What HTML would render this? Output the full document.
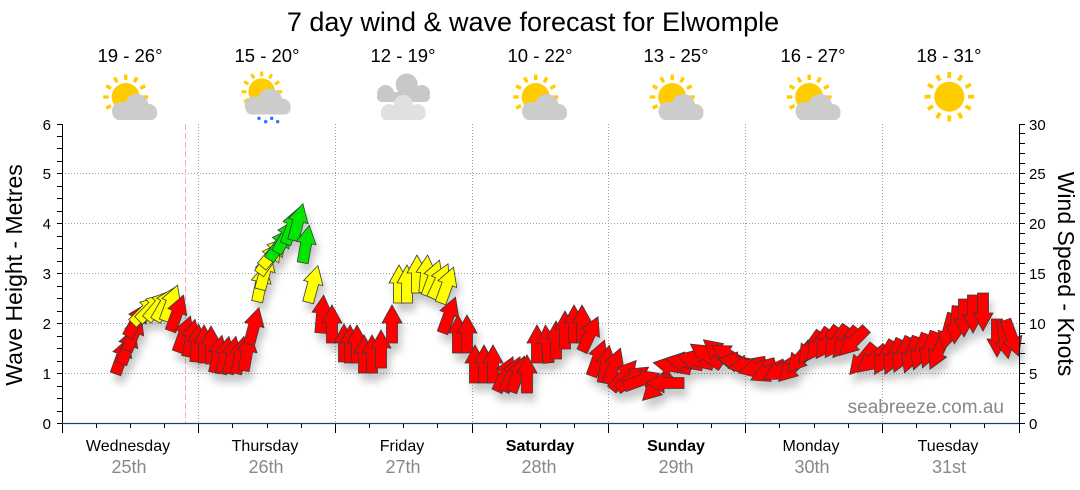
<!DOCTYPE html>
<html><head><meta charset="utf-8">
<style>
html,body{margin:0;padding:0;background:#fff;}
svg{display:block;font-family:"Liberation Sans",Arial,sans-serif;}
.r{fill:#ff0000}.y{fill:#ffff00}.g{fill:#00e600}
</style></head>
<body>
<svg width="1080" height="490" viewBox="0 0 1080 490" xmlns="http://www.w3.org/2000/svg">
<defs>
<path id="a" d="M-5.5,19 L-5.5,-1 L-10,-1 L0,-19 L10,-1 L5.5,-1 L5.5,19 Z"/>
<filter id="sh" x="-10%" y="-20%" width="120%" height="150%">
<feDropShadow dx="3" dy="8" stdDeviation="4" flood-color="#000" flood-opacity="0.22"/>
</filter>
<g id="rays">
<g stroke="#ffcc00" stroke-width="3.4">
<line x1="0" y1="-17" x2="0" y2="-22.5"/>
<line x1="0" y1="-17" x2="0" y2="-22.5" transform="rotate(30)"/>
<line x1="0" y1="-17" x2="0" y2="-22.5" transform="rotate(60)"/>
<line x1="0" y1="-17" x2="0" y2="-22.5" transform="rotate(90)"/>
<line x1="0" y1="-17" x2="0" y2="-22.5" transform="rotate(120)"/>
<line x1="0" y1="-17" x2="0" y2="-22.5" transform="rotate(150)"/>
<line x1="0" y1="-17" x2="0" y2="-22.5" transform="rotate(180)"/>
<line x1="0" y1="-17" x2="0" y2="-22.5" transform="rotate(210)"/>
<line x1="0" y1="-17" x2="0" y2="-22.5" transform="rotate(240)"/>
<line x1="0" y1="-17" x2="0" y2="-22.5" transform="rotate(270)"/>
<line x1="0" y1="-17" x2="0" y2="-22.5" transform="rotate(300)"/>
<line x1="0" y1="-17" x2="0" y2="-22.5" transform="rotate(330)"/>
</g>
</g>
<g id="cloud" fill="#cccccc">
<circle cx="6.2" cy="106" r="12"/>
<circle cx="18.5" cy="112" r="8"/>
<circle cx="-9.5" cy="111" r="9"/>
<rect x="-17.5" y="108" width="44" height="12" rx="6"/>
</g>
<g id="suncloud">
<g transform="translate(-4.8 97)"><use href="#rays"/><circle r="14" fill="#ffcc00"/></g>
<use href="#cloud"/>
</g>
</defs>

<!-- title -->
<text x="533" y="31" font-size="27" text-anchor="middle" fill="#000">7 day wind &amp; wave forecast for Elwomple</text>

<!-- temps -->
<g font-size="18.5" text-anchor="middle" fill="#000">
<text x="130" y="62">19 - 26°</text>
<text x="267" y="62">15 - 20°</text>
<text x="403" y="62">12 - 19°</text>
<text x="540" y="62">10 - 22°</text>
<text x="676" y="62">13 - 25°</text>
<text x="813" y="62">16 - 27°</text>
<text x="949" y="62">18 - 31°</text>
</g>

<!-- icons -->
<use href="#suncloud" transform="translate(130.5 0)"/>
<g transform="translate(267.5 0)">
<g transform="translate(-5.8 91.7)"><use href="#rays" transform="scale(0.9)"/><circle r="13.3" fill="#ffcc00"/></g>
<use href="#cloud" transform="translate(-4 -5.5) scale(1.02 1)"/>
<g fill="#1a6cff">
<rect x="-10" y="116.8" width="3" height="3"/>
<rect x="-3.3" y="120.2" width="3" height="3"/>
<rect x="2.7" y="116.8" width="3" height="3"/>
<rect x="8.7" y="120.2" width="3" height="3"/>
</g>
</g>
<g>
<g fill="#c8c8c8">
<circle cx="406.7" cy="84.5" r="11"/>
<circle cx="385.5" cy="93.5" r="8.5"/>
<circle cx="422" cy="93" r="8"/>
<rect x="377" y="92" width="53" height="10" rx="5"/>
</g>
<g fill="#e0e0e0">
<circle cx="403.3" cy="104.5" r="9.5"/>
<circle cx="389" cy="112" r="8"/>
<circle cx="417.5" cy="112" r="8"/>
<rect x="380.7" y="108" width="45" height="12" rx="6"/>
</g>
</g>
<use href="#suncloud" transform="translate(540.5 0)"/>
<use href="#suncloud" transform="translate(677 0)"/>
<use href="#suncloud" transform="translate(814 0)"/>
<g transform="translate(949.3 96.7)">
<use href="#rays" transform="scale(1.1)"/>
<circle r="15" fill="#ffcc00"/>
</g>

<!-- grid -->
<g stroke="#a0a0a0" stroke-width="1" stroke-dasharray="1 2" fill="none">
<path d="M62 373.5H1019M62 323.5H1019M62 273.5H1019M62 223.5H1019M62 173.5H1019"/>
<path d="M198.5 124V423M335.5 124V423M472.5 124V423M608.5 124V423M745.5 124V423M882.5 124V423"/>
</g>
<line x1="185.5" y1="124" x2="185.5" y2="423" stroke="#f4a8b0" stroke-width="1" stroke-dasharray="6 3"/>

<!-- watermark -->
<text x="1004" y="413" font-size="19" text-anchor="end" fill="#888">seabreeze.com.au</text>

<!-- arrows -->
<g filter="url(#sh)" stroke="#3a3a3a" stroke-width="0.8" stroke-linejoin="miter">
<use href="#a" class="r" transform="translate(122 356) rotate(20)"/>
<use href="#a" class="r" transform="translate(128 346) rotate(20)"/>
<use href="#a" class="r" transform="translate(134 333) rotate(22)"/>
<use href="#a" class="r" transform="translate(137 320) rotate(30)"/>
<use href="#a" class="y" transform="translate(146 310) rotate(45)"/>
<use href="#a" class="y" transform="translate(152 307) rotate(45)"/>
<use href="#a" class="y" transform="translate(159 305) rotate(40)"/>
<use href="#a" class="y" transform="translate(165 304) rotate(30)"/>
<use href="#a" class="y" transform="translate(171 303) rotate(20)"/>
<use href="#a" class="r" transform="translate(177 313) rotate(20)"/>
<use href="#a" class="r" transform="translate(184 334) rotate(20)"/>
<use href="#a" class="r" transform="translate(191 338) rotate(12)"/>
<use href="#a" class="r" transform="translate(197 343) rotate(5)"/>
<use href="#a" class="r" transform="translate(204 344) rotate(0)"/>
<use href="#a" class="r" transform="translate(211 345) rotate(0)"/>
<use href="#a" class="r" transform="translate(218 354) rotate(12)"/>
<use href="#a" class="r" transform="translate(225 355) rotate(12)"/>
<use href="#a" class="r" transform="translate(232 355) rotate(12)"/>
<use href="#a" class="r" transform="translate(240 355) rotate(12)"/>
<use href="#a" class="r" transform="translate(247 352) rotate(10)"/>
<use href="#a" class="r" transform="translate(254 326) rotate(15)"/>
<use href="#a" class="y" transform="translate(261 283) rotate(12)"/>
<use href="#a" class="y" transform="translate(265 271) rotate(15)"/>
<use href="#a" class="y" transform="translate(270 258) rotate(35)"/>
<use href="#a" class="y" transform="translate(274 252) rotate(40)"/>
<use href="#a" class="g" transform="translate(280 244) rotate(35)"/>
<use href="#a" class="g" transform="translate(286 236) rotate(30)"/>
<use href="#a" class="g" transform="translate(292 226) rotate(20)"/>
<use href="#a" class="g" transform="translate(298 222) rotate(15)"/>
<use href="#a" class="g" transform="translate(306 244) rotate(10)"/>
<use href="#a" class="y" transform="translate(313 284) rotate(15)"/>
<use href="#a" class="r" transform="translate(322 314) rotate(5)"/>
<use href="#a" class="r" transform="translate(332 324) rotate(0)"/>
<use href="#a" class="r" transform="translate(344 343) rotate(0)"/>
<use href="#a" class="r" transform="translate(350 344) rotate(0)"/>
<use href="#a" class="r" transform="translate(357 344) rotate(0)"/>
<use href="#a" class="r" transform="translate(364 354) rotate(0)"/>
<use href="#a" class="r" transform="translate(372 354) rotate(0)"/>
<use href="#a" class="r" transform="translate(381 349) rotate(0)"/>
<use href="#a" class="r" transform="translate(392 324) rotate(0)"/>
<use href="#a" class="y" transform="translate(399 284) rotate(0)"/>
<use href="#a" class="y" transform="translate(407 284) rotate(0)"/>
<use href="#a" class="y" transform="translate(417 274) rotate(0)"/>
<use href="#a" class="y" transform="translate(426 274) rotate(5)"/>
<use href="#a" class="y" transform="translate(433 278) rotate(20)"/>
<use href="#a" class="y" transform="translate(440 281) rotate(25)"/>
<use href="#a" class="y" transform="translate(447 285) rotate(20)"/>
<use href="#a" class="r" transform="translate(449 315) rotate(20)"/>
<use href="#a" class="r" transform="translate(458 334) rotate(0)"/>
<use href="#a" class="r" transform="translate(467 334) rotate(0)"/>
<use href="#a" class="r" transform="translate(475 364) rotate(0)"/>
<use href="#a" class="r" transform="translate(484 364) rotate(0)"/>
<use href="#a" class="r" transform="translate(493 364) rotate(0)"/>
<use href="#a" class="r" transform="translate(505 374) rotate(25)"/>
<use href="#a" class="r" transform="translate(512 374) rotate(25)"/>
<use href="#a" class="r" transform="translate(518 374) rotate(20)"/>
<use href="#a" class="r" transform="translate(527 374) rotate(0)"/>
<use href="#a" class="r" transform="translate(537 344) rotate(0)"/>
<use href="#a" class="r" transform="translate(547 344) rotate(-5)"/>
<use href="#a" class="r" transform="translate(556 340) rotate(0)"/>
<use href="#a" class="r" transform="translate(565 330) rotate(0)"/>
<use href="#a" class="r" transform="translate(574 324) rotate(0)"/>
<use href="#a" class="r" transform="translate(582 324) rotate(0)"/>
<use href="#a" class="r" transform="translate(590 334) rotate(25)"/>
<use href="#a" class="r" transform="translate(598 358) rotate(20)"/>
<use href="#a" class="r" transform="translate(606 364) rotate(10)"/>
<use href="#a" class="r" transform="translate(614 366) rotate(20)"/>
<use href="#a" class="r" transform="translate(624 375) rotate(40)"/>
<use href="#a" class="r" transform="translate(633 378) rotate(55)"/>
<use href="#a" class="r" transform="translate(642 380) rotate(70)"/>
<use href="#a" class="r" transform="translate(656 387) rotate(225)"/>
<use href="#a" class="r" transform="translate(665 383) rotate(270)"/>
<use href="#a" class="r" transform="translate(672 366) rotate(-80)"/>
<use href="#a" class="r" transform="translate(684 362) rotate(-80)"/>
<use href="#a" class="r" transform="translate(695 360) rotate(-75)"/>
<use href="#a" class="r" transform="translate(706 355) rotate(-55)"/>
<use href="#a" class="r" transform="translate(718 352) rotate(-50)"/>
<use href="#a" class="r" transform="translate(728 355) rotate(-60)"/>
<use href="#a" class="r" transform="translate(737 362) rotate(-80)"/>
<use href="#a" class="r" transform="translate(747 365) rotate(-100)"/>
<use href="#a" class="r" transform="translate(757 368) rotate(-105)"/>
<use href="#a" class="r" transform="translate(768 372) rotate(-115)"/>
<use href="#a" class="r" transform="translate(780 370) rotate(-120)"/>
<use href="#a" class="r" transform="translate(792 368) rotate(225)"/>
<use href="#a" class="r" transform="translate(800 358) rotate(220)"/>
<use href="#a" class="r" transform="translate(810 348) rotate(215)"/>
<use href="#a" class="r" transform="translate(818 345) rotate(215)"/>
<use href="#a" class="r" transform="translate(827 343) rotate(215)"/>
<use href="#a" class="r" transform="translate(836 342) rotate(215)"/>
<use href="#a" class="r" transform="translate(845 343) rotate(220)"/>
<use href="#a" class="r" transform="translate(853 342) rotate(225)"/>
<use href="#a" class="r" transform="translate(862 360) rotate(220)"/>
<use href="#a" class="r" transform="translate(872 360) rotate(230)"/>
<use href="#a" class="r" transform="translate(884 358) rotate(210)"/>
<use href="#a" class="r" transform="translate(893 357) rotate(205)"/>
<use href="#a" class="r" transform="translate(902 355) rotate(205)"/>
<use href="#a" class="r" transform="translate(911 355) rotate(200)"/>
<use href="#a" class="r" transform="translate(920 352) rotate(200)"/>
<use href="#a" class="r" transform="translate(929 350) rotate(200)"/>
<use href="#a" class="r" transform="translate(938 352) rotate(205)"/>
<use href="#a" class="r" transform="translate(948 332) rotate(195)"/>
<use href="#a" class="r" transform="translate(956 325) rotate(185)"/>
<use href="#a" class="r" transform="translate(964 318) rotate(180)"/>
<use href="#a" class="r" transform="translate(973 314) rotate(180)"/>
<use href="#a" class="r" transform="translate(983 312) rotate(180)"/>
<use href="#a" class="r" transform="translate(997 338) rotate(180)"/>
<use href="#a" class="r" transform="translate(1005 340) rotate(170)"/>
<use href="#a" class="r" transform="translate(1012 338) rotate(160)"/>
</g>

<!-- axes -->
<g stroke="#000" stroke-width="1" fill="none">
<path d="M62.5 124V423.5"/>
<path d="M57 423.5H62M57 411.5H62M57 398.5H62M57 386.5H62M57 373.5H62M57 361.5H62M57 348.5H62M57 336.5H62M57 323.5H62M57 311.5H62M57 298.5H62M57 286.5H62M57 273.5H62M57 261.5H62M57 248.5H62M57 236.5H62M57 223.5H62M57 211.5H62M57 198.5H62M57 186.5H62M57 173.5H62M57 161.5H62M57 148.5H62M57 136.5H62M57 124.5H62"/>
<path d="M1019.5 124V423.5"/>
<path d="M1019 423.5H1025M1019 413.5H1025M1019 403.5H1025M1019 393.5H1025M1019 383.5H1025M1019 373.5H1025M1019 363.5H1025M1019 353.5H1025M1019 343.5H1025M1019 333.5H1025M1019 323.5H1025M1019 313.5H1025M1019 303.5H1025M1019 293.5H1025M1019 283.5H1025M1019 273.5H1025M1019 263.5H1025M1019 253.5H1025M1019 243.5H1025M1019 233.5H1025M1019 223.5H1025M1019 213.5H1025M1019 203.5H1025M1019 193.5H1025M1019 183.5H1025M1019 173.5H1025M1019 163.5H1025M1019 153.5H1025M1019 143.5H1025M1019 133.5H1025M1019 124.5H1025"/>
<path d="M62.5 423V433M198.5 423V433M335.5 423V433M472.5 423V433M608.5 423V433M745.5 423V433M882.5 423V433M1019.5 423V433"/>
<path d="M96.5 423V428M130.5 423V428M164.5 423V428M232.5 423V428M267.5 423V428M301.5 423V428M369.5 423V428M403.5 423V428M437.5 423V428M506.5 423V428M540.5 423V428M574.5 423V428M643.5 423V428M677.5 423V428M711.5 423V428M779.5 423V428M814.5 423V428M848.5 423V428M916.5 423V428M950.5 423V428M984.5 423V428"/>
</g>
<line x1="62" y1="423.5" x2="1019" y2="423.5" stroke="#1f4060" stroke-width="1.2"/>

<!-- axis labels -->
<g font-size="15" fill="#000" text-anchor="end">
<text x="51" y="429">0</text>
<text x="51" y="379">1</text>
<text x="51" y="329">2</text>
<text x="51" y="279">3</text>
<text x="51" y="229">4</text>
<text x="51" y="179">5</text>
<text x="51" y="130">6</text>
</g>
<g font-size="15" fill="#000" text-anchor="start">
<text x="1029" y="429">0</text>
<text x="1029" y="379">5</text>
<text x="1029" y="329">10</text>
<text x="1029" y="279">15</text>
<text x="1029" y="229">20</text>
<text x="1029" y="179">25</text>
<text x="1029" y="130">30</text>
</g>
<text transform="translate(22 275) rotate(-90)" font-size="23" text-anchor="middle" fill="#000">Wave Height - Metres</text>
<text transform="translate(1058 274) rotate(90)" font-size="23" text-anchor="middle" fill="#000">Wind Speed - Knots</text>

<!-- day labels -->
<g font-size="16" text-anchor="middle" fill="#000">
<text x="128" y="451">Wednesday</text>
<text x="265" y="451">Thursday</text>
<text x="402" y="451">Friday</text>
<text x="540" y="451" font-weight="bold">Saturday</text>
<text x="676" y="451" font-weight="bold">Sunday</text>
<text x="811" y="451">Monday</text>
<text x="948" y="451">Tuesday</text>
</g>
<g font-size="18" text-anchor="middle" fill="#888">
<text x="129" y="473">25th</text>
<text x="266" y="473">26th</text>
<text x="403" y="473">27th</text>
<text x="539" y="473">28th</text>
<text x="676" y="473">29th</text>
<text x="812" y="473">30th</text>
<text x="949" y="473">31st</text>
</g>
</svg>
</body></html>
